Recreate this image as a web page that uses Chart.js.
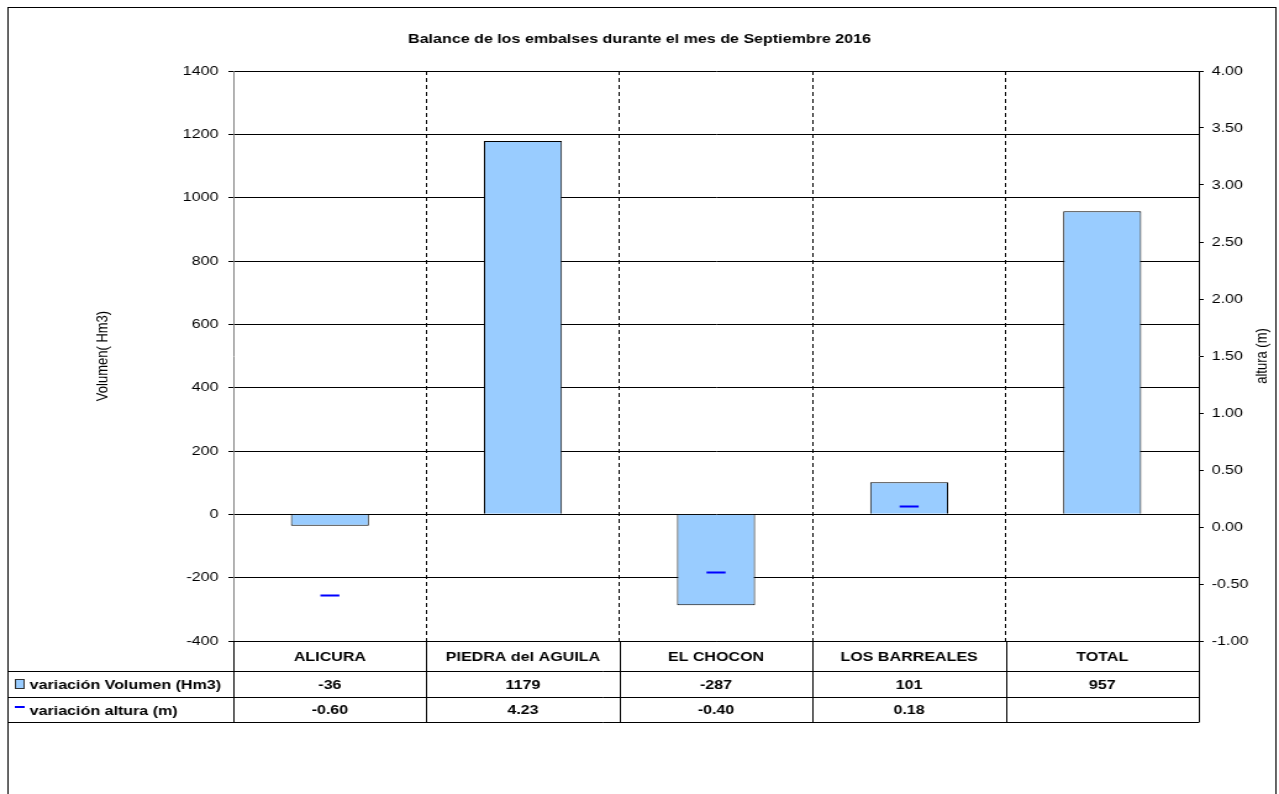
<!DOCTYPE html>
<html>
<head>
<meta charset="utf-8">
<script src="https://cdn.jsdelivr.net/npm/chart.js@4"></script>
<style>
  html, body { margin: 0; padding: 0; background: #fff; overflow: hidden; }
  canvas { display: block; }
</style>
</head>
<body>
<!-- the original picture is stretched horizontally; draw narrower and stretch with CSS -->
<canvas id="balanceChart" width="1036" height="794" style="width:1279px;height:794px"></canvas>
<script>
const categories = ['ALICURA', 'PIEDRA del AGUILA', 'EL CHOCON', 'LOS BARREALES', 'TOTAL'];
const volumen = [-36, 1179, -287, 101, 957];
const altura = [-0.60, 4.23, -0.40, 0.18, null];
const volumenTicks = { min: -400, max: 1400, step: 200 };
const alturaTicks = { min: -1, max: 4, step: 0.5 };

const FONT = 'Arial, "Liberation Sans", sans-serif';
Chart.defaults.font.family = FONT;
Chart.defaults.font.size = 13;
Chart.defaults.color = '#000';

// marco, tabla de datos y titulo del eje derecho
const tablePlugin = {
    id: 'dataTable',
    afterDraw(chart) {
        const ctx = chart.ctx;
        const ca = chart.chartArea;
        const xs = chart.scales.x;
        const colW = (ca.right - ca.left) / categories.length;
        const rows = [ca.bottom, 671, 697, 722];

        ctx.save();
        ctx.strokeStyle = '#000';
        ctx.lineWidth = 1;
        ctx.beginPath();
        for (let r = 1; r < rows.length; r++) {
            ctx.moveTo(6.5, rows[r] + 0.5);
            ctx.lineTo(ca.right, rows[r] + 0.5);
        }
        for (let i = 0; i <= categories.length; i++) {
            const x = Math.round(ca.left + i * colW) + 0.5;
            ctx.moveTo(x, ca.bottom);
            ctx.lineTo(x, rows[3] + 0.5);
        }
        ctx.stroke();

        ctx.fillStyle = '#000';
        ctx.font = 'bold 13px ' + FONT;
        ctx.textAlign = 'center';
        ctx.textBaseline = 'middle';
        categories.forEach((c, i) => {
            const x = xs.getPixelForValue(i);
            ctx.fillText(c, x, (rows[0] + rows[1]) / 2 + 1);
            ctx.fillText(String(volumen[i]), x, (rows[1] + rows[2]) / 2 + 1);
            if (altura[i] !== null) ctx.fillText(altura[i].toFixed(2), x, (rows[2] + rows[3]) / 2 + 1);
        });

        // leyenda en la tabla
        ctx.textAlign = 'left';
        ctx.fillStyle = '#99CCFF';
        ctx.fillRect(12, 679, 8, 10);
        ctx.strokeStyle = '#333';
        ctx.strokeRect(12.5, 679.5, 7, 9);
        ctx.strokeStyle = '#0000FF';
        ctx.lineWidth = 2;
        ctx.beginPath();
        ctx.moveTo(12, 707);
        ctx.lineTo(20, 707);
        ctx.stroke();
        ctx.fillStyle = '#000';
        ctx.fillText('variación Volumen (Hm3)', 24, 685);
        ctx.fillText('variación altura (m)', 24, 711);

        // titulo eje derecho (de abajo hacia arriba)
        ctx.font = '13px ' + FONT;
        ctx.textAlign = 'center';
        ctx.translate(1022, (ca.top + ca.bottom) / 2);
        ctx.rotate(-Math.PI / 2);
        ctx.fillText('altura (m)', 0, 0);
        ctx.restore();

        ctx.save();
        ctx.strokeStyle = '#000';
        ctx.lineWidth = 1;
        ctx.strokeRect(6.5, 7.5, 1027, 800);
        ctx.restore();
    }
};

new Chart(document.getElementById('balanceChart'), {
    type: 'bar',
    data: {
        labels: categories,
        datasets: [
            {
                type: 'line',
                label: 'variación altura (m)',
                data: altura,
                yAxisID: 'y1',
                showLine: false,
                pointStyle: 'line',
                pointRadius: 7.7,
                pointHoverRadius: 7.7,
                pointBorderColor: '#0000FF',
                pointBorderWidth: 2,
                order: 0
            },
            {
                label: 'variación Volumen (Hm3)',
                data: volumen,
                yAxisID: 'y',
                backgroundColor: '#99CCFF',
                borderColor: '#000',
                borderWidth: 1,
                categoryPercentage: 1,
                barPercentage: 0.404,
                order: 1
            }
        ]
    },
    options: {
        responsive: false,
        animation: false,
        layout: { padding: { left: 0, right: 0, top: 0, bottom: 73 } },
        scales: {
            x: {
                grid: {
                    offset: true,
                    drawTicks: false,
                    color: ctx => (ctx.index === 0 ? 'rgba(0,0,0,0)' : '#000')
                },
                border: { display: true, color: '#000', dash: [4, 3] },
                ticks: { display: false },
                afterFit(scale) { scale.height = 80; }
            },
            y: {
                position: 'left',
                min: volumenTicks.min,
                max: volumenTicks.max,
                ticks: { stepSize: volumenTicks.step, padding: 8, color: '#000', callback: v => String(v) },
                grid: { color: '#000', tickLength: 4, tickColor: '#000' },
                border: { color: '#808080' },
                title: {
                    display: true,
                    text: 'Volumen( Hm3)',
                    font: { size: 13 },
                    padding: { top: 75.6, bottom: 0 }
                },
                afterFit(scale) { scale.width = 189; }
            },
            y1: {
                position: 'right',
                min: alturaTicks.min,
                max: alturaTicks.max,
                ticks: {
                    stepSize: alturaTicks.step,
                    padding: 6.5,
                    color: '#000',
                    callback: v => Number(v).toFixed(2)
                },
                grid: { drawOnChartArea: false, tickLength: 4, color: '#000' },
                border: { color: '#000' },
                afterFit(scale) { scale.width = 65; }
            }
        },
        plugins: {
            legend: { display: false },
            tooltip: { enabled: false },
            title: {
                display: true,
                text: 'Balance de los embalses durante el mes de Septiembre 2016',
                font: { size: 13, weight: 'bold' },
                color: '#000',
                padding: { top: 32, bottom: 23.4 }
            }
        }
    },
    plugins: [tablePlugin]
});
</script>
</body>
</html>
